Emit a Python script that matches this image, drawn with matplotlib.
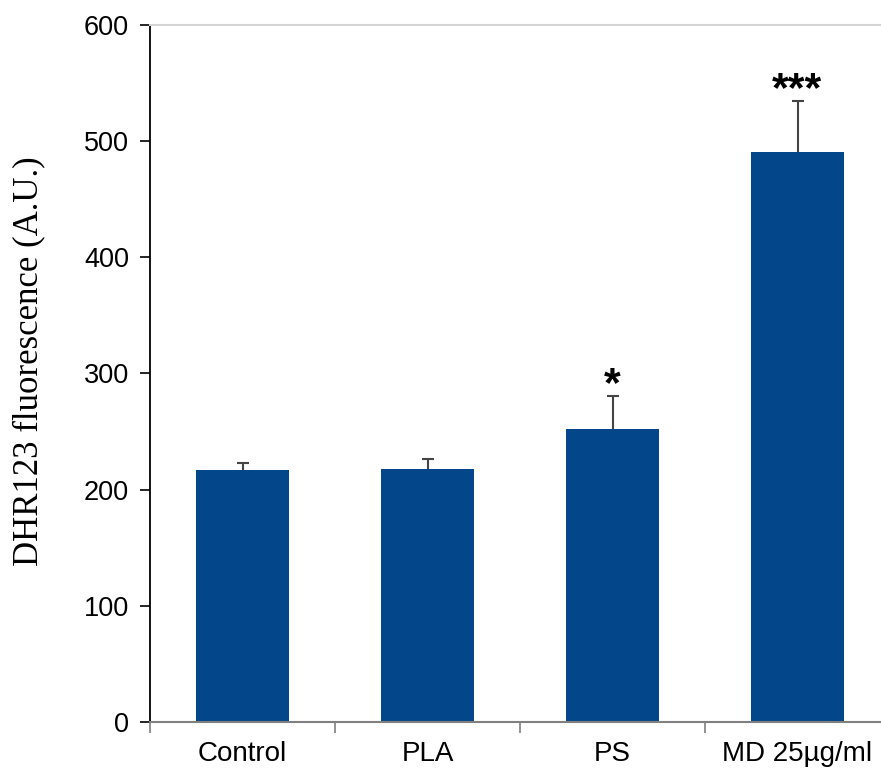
import numpy as np
import matplotlib.pyplot as plt

groups = ['Control', 'PLA', 'PS', 'MD 25\u00b5g/ml']
means = [217, 218, 252, 491]
errors = [6, 8, 29, 44]
marks = ['', '', '*', '***']
yticks = [0, 100, 200, 300, 400, 500, 600]

bar_color = '#03468A'

fig = plt.figure(figsize=(8.81, 7.72), dpi=100)
# axes runs a little past the right edge, like the cropped original
ax = fig.add_axes([150 / 881, 50 / 772, 740 / 881, 697 / 772])

x = np.arange(len(groups))
ax.bar(x, means, width=0.5, color=bar_color, zorder=2)
_, caps, _ = ax.errorbar(x, means, yerr=[np.zeros(len(errors)), errors], fmt='none',
                         ecolor='#444444', elinewidth=1.5, capsize=4, capthick=1.5,
                         zorder=3)
caps[0].set_visible(False)  # only the upper cap

for xi, m, e, s in zip(x, means, errors, marks):
    if s:
        ax.annotate(s, (xi, m + e), xytext=(0, -7), textcoords='offset points',
                    ha='center', va='bottom', fontsize=31, fontweight='bold',
                    family='Liberation Sans')

ax.set_xlim(-0.5, 3.5)
ax.set_ylim(0, 600)
ax.set_yticks(yticks)
ax.set_yticklabels([str(t) for t in yticks], fontsize=19.5, family='Liberation Sans')

# category ticks sit between bars
ax.set_xticks([-0.5, 0.5, 1.5, 2.5, 3.5])
ax.set_xticklabels([])
ax.set_xticks(x, minor=True)
ax.set_xticklabels(groups, minor=True, fontsize=20, family='Liberation Sans')
ax.tick_params(axis='x', which='minor', length=0, pad=14)
ax.tick_params(axis='x', which='major', length=8, color='#808080', width=1.2)
ax.tick_params(axis='y', length=7, width=1.2, pad=8)

ax.spines['left'].set_linewidth(1.3)
ax.spines['bottom'].set_color('#808080')
ax.spines['bottom'].set_linewidth(1.5)
ax.spines['top'].set_color('#d4d4d4')
ax.spines['top'].set_linewidth(1.5)
ax.spines['right'].set_visible(False)

ax.set_ylabel('DHR123 fluorescence (A.U.)', fontsize=25, family='Liberation Serif')
ax.yaxis.set_label_coords(-0.141, 0.518)

fig.savefig('out.png', dpi=100)
